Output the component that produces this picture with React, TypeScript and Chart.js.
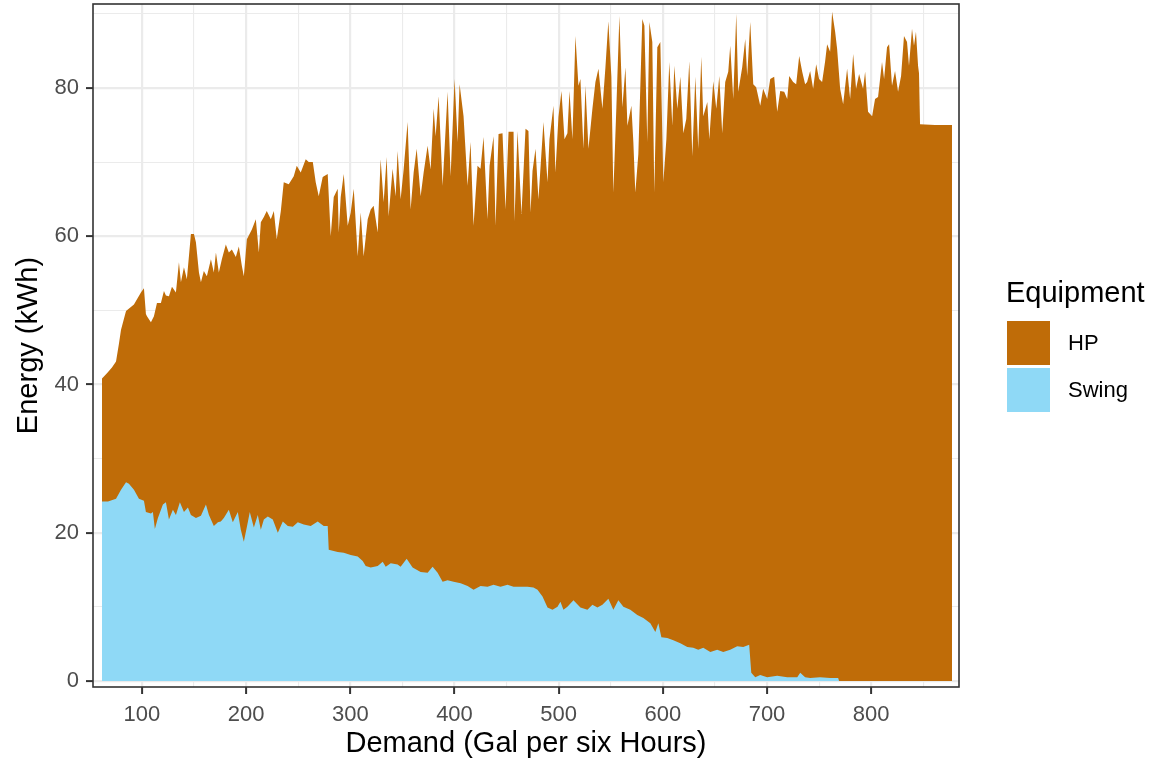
import React, { useEffect, useRef } from "react";
import { Chart, registerables } from "chart.js";

Chart.register(...registerables);

// Demand (Gal per six Hours) and stacked top of the HP area (HP + Swing), kWh
const stackDemand = [
  61.6, 66.4, 71.2, 75.1, 77.9, 79.9, 84.7, 92.3, 99.0, 101.9, 103.8, 104.8, 108.6, 111.5, 114.4, 118.2,
  121.1, 123.0, 125.9, 128.8, 132.6, 135.5, 137.4, 140.3, 143.1, 147.0, 149.9, 151.8, 154.7, 156.6, 159.4,
  162.3, 166.2, 169.0, 171.0, 173.8, 176.7, 180.5, 183.4, 186.3, 190.1, 193.0, 195.9, 197.8, 200.7, 205.5,
  209.3, 212.2, 214.1, 217.0, 219.8, 223.7, 226.6, 229.4, 233.3, 236.1, 240.9, 245.7, 248.6, 252.4, 257.2,
  260.1, 264.0, 266.8, 269.7, 273.5, 278.3, 281.2, 284.1, 287.9, 288.9, 290.8, 293.7, 297.5, 300.4, 303.3,
  307.1, 310.0, 312.8, 316.7, 319.6, 322.4, 326.3, 329.1, 332.0, 334.9, 336.8, 340.6, 343.5, 345.4, 348.3,
  351.2, 355.0, 357.9, 360.8, 363.7, 367.5, 370.4, 374.2, 377.1, 380.0, 381.9, 384.8, 388.6, 393.4, 396.3,
  400.1, 403.0, 404.9, 408.7, 412.6, 415.4, 418.3, 422.1, 425.0, 427.9, 431.7, 433.7, 437.5, 439.4, 442.3,
  446.1, 449.0, 451.9, 456.7, 457.6, 460.5, 464.3, 468.2, 471.0, 473.0, 474.9, 477.8, 480.6, 485.4, 489.3,
  491.2, 495.0, 496.9, 499.8, 502.7, 505.6, 508.4, 510.4, 513.2, 516.1, 519.0, 520.9, 523.8, 525.7, 528.6,
  532.4, 535.3, 538.2, 542.0, 544.9, 547.7, 550.6, 552.5, 555.4, 558.3, 561.2, 564.1, 566.0, 569.8, 571.7,
  573.6, 576.5, 580.3, 582.3, 585.1, 587.1, 589.9, 591.8, 594.7, 597.6, 600.5, 603.4, 606.2, 609.1, 611.0,
  613.9, 616.8, 619.7, 622.5, 625.4, 628.3, 631.2, 634.0, 636.9, 638.8, 642.7, 644.6, 648.4, 651.3, 654.2,
  657.0, 659.9, 662.8, 664.7, 667.6, 670.5, 672.4, 676.2, 679.1, 681.0, 683.9, 686.8, 689.6, 693.5, 696.3,
  700.2, 703.1, 706.9, 709.8, 712.7, 716.5, 719.4, 721.3, 725.1, 728.0, 730.9, 733.8, 736.6, 738.5, 741.4,
  744.3, 747.2, 750.0, 752.9, 755.8, 757.7, 760.6, 762.5, 765.4, 767.3, 770.2, 773.1, 776.9, 779.8, 782.7,
  785.5, 788.4, 792.2, 794.2, 797.0, 800.9, 803.7, 806.6, 810.4, 812.4, 815.2, 817.2, 820.0, 822.9, 825.8,
  828.7, 831.5, 834.4, 836.3, 839.2, 841.1, 843.0, 845.0, 845.9, 846.9, 861.3, 877.6,
];
const stackTopEnergy = [
  40.8, 41.5, 42.3, 43.1, 45.5, 47.4, 49.9, 50.8, 52.4, 53.0, 49.5, 49.2, 48.4, 49.2, 51.0, 51.0,
  52.6, 52.0, 51.9, 53.2, 52.4, 56.5, 53.8, 55.8, 54.2, 60.3, 60.3, 59.2, 55.1, 53.8, 55.3,
  54.6, 56.9, 55.1, 57.8, 55.1, 56.9, 58.9, 57.8, 58.2, 57.2, 58.6, 56.0, 54.6, 59.6, 60.9,
  62.3, 57.8, 61.9, 62.6, 63.4, 62.3, 63.4, 59.6, 63.4, 67.3, 67.0, 68.1, 69.5, 68.6, 70.4,
  70.0, 70.0, 67.3, 65.4, 68.0, 68.4, 60.0, 65.3, 66.4, 60.5, 65.3, 68.4, 61.4, 63.2, 66.4,
  57.3, 63.2, 57.3, 62.3, 63.6, 64.1, 60.5, 70.4, 64.6, 70.7, 62.7, 69.1, 65.4, 71.5, 65.0,
  69.0, 75.4, 63.6, 68.6, 71.8, 65.4, 68.6, 72.2, 69.0, 77.2, 73.5, 78.9, 66.8, 79.5, 68.1,
  81.2, 72.7, 80.5, 76.2, 66.8, 72.7, 61.4, 69.5, 69.1, 73.4, 62.3, 69.5, 73.5, 61.4, 73.8,
  73.9, 63.6, 74.1, 74.1, 62.0, 74.2, 63.0, 74.5, 74.2, 63.2, 68.8, 71.8, 65.0, 75.4, 67.3,
  73.1, 77.6, 68.6, 76.1, 79.6, 73.1, 73.9, 79.6, 73.1, 87.0, 80.3, 81.2, 71.8, 80.3, 71.8,
  77.2, 80.8, 82.6, 77.2, 82.8, 89.0, 81.5, 65.9, 77.4, 89.7, 77.4, 82.8, 74.9, 77.6, 72.7,
  65.9, 71.1, 89.3, 88.4, 72.7, 88.9, 86.2, 65.9, 85.5, 86.2, 67.3, 73.1, 83.5, 74.9, 83.0,
  77.2, 81.5, 73.9, 75.8, 83.6, 70.8, 81.5, 71.8, 84.2, 76.2, 78.1, 73.1, 80.9, 77.2, 81.6,
  73.9, 80.8, 82.2, 85.7, 78.5, 90.0, 79.5, 82.8, 86.6, 81.6, 88.9, 80.5, 80.1, 77.6, 79.9,
  78.5, 81.2, 81.5, 76.8, 79.6, 79.5, 78.5, 81.6, 80.8, 80.5, 84.3, 82.2, 80.5, 80.8, 82.3,
  79.9, 83.2, 81.2, 80.8, 83.6, 85.9, 84.9, 90.3, 87.6, 85.3, 79.9, 77.8, 82.6, 78.5, 84.6,
  79.9, 81.9, 79.9, 82.2, 76.8, 76.2, 78.5, 78.8, 83.5, 81.2, 85.5, 85.9, 80.3, 82.3, 79.5,
  81.6, 87.0, 86.2, 83.0, 88.0, 85.7, 87.6, 83.0, 82.0, 75.1, 75.0, 75.0,
];

// Demand and Swing energy (kWh)
const swingDemand = [
  61.6, 67.4, 75.1, 79.9, 84.7, 87.5, 92.3, 97.1, 101.9, 103.8, 108.6, 110.5, 112.4, 115.3, 120.1, 123.0,
  125.9, 129.7, 132.6, 136.4, 140.3, 144.1, 147.0, 151.8, 156.6, 161.4, 164.3, 169.0, 172.9, 175.7, 178.6,
  183.4, 187.2, 192.0, 194.9, 197.8, 201.6, 203.5, 207.4, 211.2, 214.1, 217.0, 220.8, 225.6, 230.4, 235.2,
  240.0, 244.8, 249.6, 255.3, 262.0, 268.7, 274.5, 278.3, 279.3, 287.9, 293.7, 300.4, 307.1, 311.9, 314.8,
  319.6, 326.3, 331.1, 334.0, 338.8, 345.4, 348.3, 354.1, 359.8, 367.5, 374.2, 379.0, 383.8, 388.6, 393.4,
  399.2, 405.9, 412.6, 418.3, 425.0, 431.7, 437.5, 444.2, 450.9, 456.7, 463.4, 470.1, 475.8, 479.7, 484.5,
  489.3, 494.1, 498.9, 501.7, 504.6, 508.4, 514.2, 520.9, 527.6, 532.4, 537.2, 542.0, 547.7, 552.5, 557.3,
  562.1, 568.8, 575.5, 581.3, 588.0, 592.8, 595.7, 598.6, 604.3, 610.1, 616.8, 623.5, 629.2, 634.0, 638.8,
  645.6, 652.2, 658.0, 664.7, 671.4, 677.2, 682.9, 684.9, 688.7, 693.5, 700.2, 709.8, 719.4, 729.0, 731.9,
  736.6, 741.4, 751.0, 760.6, 768.3, 769.2, 877.6,
];
const swingEnergy = [
  24.2, 24.2, 24.6, 25.8, 26.8, 26.6, 25.8, 24.6, 24.3, 22.8, 22.6, 22.8, 20.5, 22.0, 23.8, 24.1,
  21.8, 23.1, 22.4, 24.1, 22.8, 23.4, 22.4, 22.0, 22.3, 23.8, 22.4, 20.9, 21.4, 21.5, 22.0,
  23.1, 21.4, 22.8, 20.4, 18.8, 21.4, 22.8, 20.7, 22.4, 20.4, 21.8, 22.2, 21.8, 20.0, 21.5,
  20.9, 20.8, 21.4, 21.1, 20.9, 21.5, 20.9, 20.9, 17.7, 17.4, 17.3, 17.0, 16.8, 16.2, 15.5,
  15.3, 15.5, 16.1, 15.4, 15.9, 15.7, 15.4, 16.5, 15.3, 14.7, 14.6, 15.4, 14.6, 13.4, 13.6,
  13.4, 13.2, 12.8, 12.3, 12.8, 12.7, 13.0, 12.7, 13.0, 12.7, 12.7, 12.7, 12.6, 12.3, 11.4,
  9.9, 9.6, 10.0, 10.7, 9.6, 10.0, 10.9, 9.9, 9.6, 10.3, 9.9, 10.3, 11.1, 9.6, 10.9,
  10.0, 9.6, 8.9, 8.5, 7.8, 6.6, 7.8, 5.9, 5.8, 5.5, 5.1, 4.6, 4.5, 4.2, 4.5,
  3.9, 4.2, 3.9, 4.2, 4.7, 4.6, 4.9, 1.1, 0.5, 0.8, 0.5, 0.7, 0.5, 0.5, 1.1,
  0.5, 0.4, 0.5, 0.4, 0.4, 0.0, 0.0,
];

const seriesNames = ["HP", "Swing"];
const seriesColors = ["#BF6C08", "#8FD9F6"];

const xMajorTicks = [100, 200, 300, 400, 500, 600, 700, 800];
const xMinorTicks = [150, 250, 350, 450, 550, 650, 750, 850];
const yMajorTicks = [0, 20, 40, 60, 80];
const yMinorTicks = [10, 30, 50, 70, 90];

const xTitle = "Demand (Gal per six Hours)";
const yTitle = "Energy (kWh)";
const legendTitle = "Equipment";

const FONT = "'Liberation Sans', Arial, Helvetica, sans-serif";

const panelBorder = {
  id: "panelBorder",
  afterDatasetsDraw(chart: any) {
    const { ctx, chartArea } = chart;
    ctx.save();
    ctx.strokeStyle = "#333333";
    ctx.lineWidth = 1.6;
    ctx.strokeRect(chartArea.left, chartArea.top, chartArea.right - chartArea.left, chartArea.bottom - chartArea.top);
    ctx.restore();
  },
};

export default function App() {
  const canvasRef = useRef<HTMLCanvasElement | null>(null);

  useEffect(() => {
    const canvas = canvasRef.current;
    if (!canvas) return;
    const xAll = [...xMajorTicks, ...xMinorTicks].sort((a, b) => a - b);
    const yAll = [...yMajorTicks, ...yMinorTicks].sort((a, b) => a - b);
    const isXMajor = (v: number) => xMajorTicks.includes(v);
    const isYMajor = (v: number) => yMajorTicks.includes(v);

    const chart = new Chart(canvas, {
      type: "line",
      data: {
        datasets: [
          {
            label: seriesNames[0],
            data: stackDemand.map((x, i) => ({ x, y: stackTopEnergy[i] })),
            backgroundColor: seriesColors[0],
            borderColor: seriesColors[0],
            borderWidth: 0,
            pointRadius: 0,
            tension: 0,
            fill: "origin",
            order: 2,
          },
          {
            label: seriesNames[1],
            data: swingDemand.map((x, i) => ({ x, y: swingEnergy[i] })),
            backgroundColor: seriesColors[1],
            borderColor: seriesColors[1],
            borderWidth: 0,
            pointRadius: 0,
            tension: 0,
            fill: "origin",
            order: 1,
          },
        ],
      },
      options: {
        animation: false,
        responsive: false,
        maintainAspectRatio: false,
        layout: { autoPadding: false, padding: { left: 0, right: 204, top: 4, bottom: 0 } },
        plugins: { legend: { display: false }, tooltip: { enabled: false } },
        scales: {
          x: {
            type: "linear",
            min: 53.0,
            max: 884.3,
            afterFit: (s: any) => {
              s.height = 74;
              s.paddingLeft = 0;
              s.paddingRight = 0;
            },
            afterBuildTicks: (s: any) => {
              s.ticks = xAll.map((v) => ({ value: v }));
            },
            ticks: {
              autoSkip: false,
              maxRotation: 0,
              padding: 8,
              color: "#4D4D4D",
              font: { family: FONT, size: 22 },
              callback: (v: any) => (isXMajor(Number(v)) ? String(v) : ""),
            },
            grid: {
              color: "#EBEBEB",
              lineWidth: (c: any) => (c.tick && isXMajor(c.tick.value) ? 2.2 : 1.1),
              tickLength: 7,
              tickWidth: 2,
              tickColor: (c: any) => (c.tick && isXMajor(c.tick.value) ? "#333333" : "rgba(0,0,0,0)"),
            },
            border: { display: false },
            title: {
              display: true,
              text: xTitle,
              color: "#000000",
              font: { family: FONT, size: 29 },
              padding: { top: 0, bottom: 0 },
            },
          },
          y: {
            type: "linear",
            min: -0.81,
            max: 91.33,
            afterFit: (s: any) => {
              s.width = 93;
              s.paddingTop = 0;
              s.paddingBottom = 0;
            },
            afterBuildTicks: (s: any) => {
              s.ticks = yAll.map((v) => ({ value: v }));
            },
            ticks: {
              autoSkip: false,
              padding: 7,
              color: "#4D4D4D",
              font: { family: FONT, size: 22 },
              callback: (v: any) => (isYMajor(Number(v)) ? String(v) : ""),
            },
            grid: {
              color: "#EBEBEB",
              lineWidth: (c: any) => (c.tick && isYMajor(c.tick.value) ? 2.2 : 1.1),
              tickLength: 7,
              tickWidth: 2,
              tickColor: (c: any) => (c.tick && isYMajor(c.tick.value) ? "#333333" : "rgba(0,0,0,0)"),
            },
            border: { display: false },
            title: {
              display: true,
              text: yTitle,
              color: "#000000",
              font: { family: FONT, size: 29 },
              padding: { top: 12, bottom: 0 },
            },
          },
        },
      },
      plugins: [panelBorder],
    } as any);

    return () => {
      chart.destroy();
    };
  }, []);

  const labelStyle: React.CSSProperties = {
    position: "absolute",
    fontFamily: FONT,
    fontSize: 22,
    lineHeight: "22px",
    color: "#000000",
    whiteSpace: "nowrap",
  };

  return (
    <div style={{ position: "absolute", left: 0, top: 0, width: 1163, height: 761, background: "#FFFFFF" }}>
      <canvas ref={canvasRef} width={1163} height={761} style={{ position: "absolute", left: 0, top: 0, width: 1163, height: 761 }} />
      <div
        style={{
          position: "absolute",
          left: 1006,
          top: 278,
          fontFamily: FONT,
          fontSize: 29,
          lineHeight: "29px",
          color: "#000000",
          whiteSpace: "nowrap",
        }}
      >
        {legendTitle}
      </div>
      <div style={{ position: "absolute", left: 1007, top: 321, width: 43, height: 44, background: seriesColors[0] }} />
      <div style={{ position: "absolute", left: 1007, top: 368, width: 43, height: 44, background: seriesColors[1] }} />
      <div style={{ ...labelStyle, left: 1068, top: 332 }}>{seriesNames[0]}</div>
      <div style={{ ...labelStyle, left: 1068, top: 379 }}>{seriesNames[1]}</div>
    </div>
  );
}
